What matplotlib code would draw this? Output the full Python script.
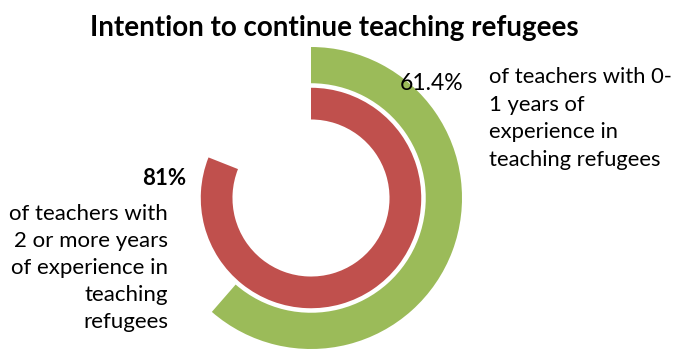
import matplotlib
matplotlib.use("Agg")
import matplotlib.pyplot as plt

plt.rcParams['font.family'] = ['Lato', 'DejaVu Sans']

title = "Intention to continue teaching refugees"
groups = ["0-1 years", "2 or more years"]
shares = [61.4, 81.0]
colors = ["#9BBB59", "#C0504D"]
label_new = "of teachers with 0-\n1 years of\nexperience in\nteaching refugees"
label_exp = "of teachers with\n2 or more years\nof experience in\nteaching\nrefugees"

W, H = 673, 350
fig = plt.figure(figsize=(W / 100, H / 100), dpi=100)

# ring centre and outer radius in pixels
cx, cy, r = 311, 198, 151
ax = fig.add_axes([(cx - r) / W, (H - cy - r) / H, 2 * r / W, 2 * r / H])

# outer ring: 0-1 years, inner ring: 2+ years
ax.pie([shares[0], 100 - shares[0]], radius=1.0, startangle=90, counterclock=False,
       colors=[colors[0], "none"], wedgeprops=dict(width=0.24, linewidth=0))
ax.pie([shares[1], 100 - shares[1]], radius=0.73, startangle=90, counterclock=False,
       colors=[colors[1], "none"], wedgeprops=dict(width=0.21, linewidth=0))
ax.set_xlim(-1, 1)
ax.set_ylim(-1, 1)
ax.axis("off")

fig.text(334 / W, 1 - 36 / H, title, ha="center", va="baseline",
         fontsize=20, fontweight="bold")

fig.text(400 / W, 1 - 90 / H, f"{shares[0]}%", ha="left", va="baseline", fontsize=16.5)
fig.text(489 / W, 1 - 67 / H, label_new, ha="left", va="top", fontsize=15.8,
         linespacing=1.47)

fig.text(186 / W, 1 - 185 / H, f"{shares[1]:.0f}%", ha="right", va="baseline",
         fontsize=16, fontweight="bold")
fig.text(168 / W, 1 - 204 / H, label_exp, ha="right", va="top", fontsize=16,
         linespacing=1.44, multialignment="right")

fig.savefig("out.png", dpi=100)
